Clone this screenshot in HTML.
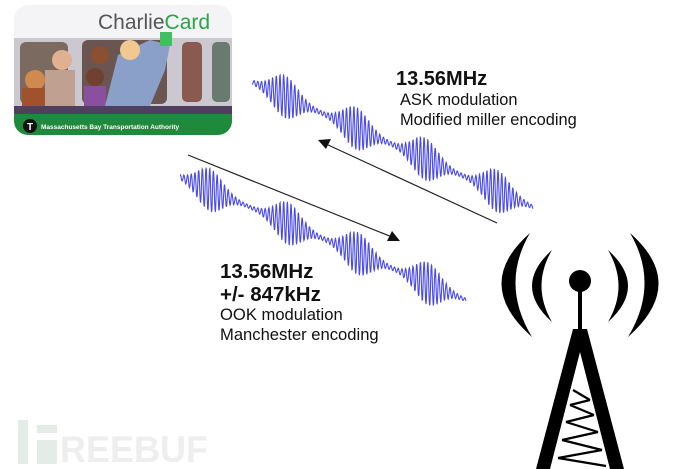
<!DOCTYPE html>
<html><head><meta charset="utf-8"><style>
html,body{margin:0;padding:0;background:#fff;}
svg{display:block}
text{font-family:"Liberation Sans",Arial,sans-serif;}
</style></head><body>
<svg id="s" width="690" height="469" viewBox="0 0 690 469" xmlns="http://www.w3.org/2000/svg">
<defs>
<clipPath id="cc"><rect x="14" y="5" width="218" height="130" rx="14"/></clipPath>
</defs>
<g clip-path="url(#cc)">
<rect x="14" y="5" width="218" height="130" fill="#f4f4f6"/>
<rect x="14" y="38" width="218" height="70" fill="#ccc8d0"/>
<rect x="20" y="42" width="48" height="62" rx="6" fill="#7a6a60"/>
<rect x="82" y="40" width="85" height="64" rx="6" fill="#6a5550"/>
<rect x="182" y="42" width="20" height="60" rx="5" fill="#8a5a50"/>
<rect x="212" y="42" width="18" height="60" rx="5" fill="#6a7a70"/>
<circle cx="35" cy="80" r="10" fill="#d08a50"/>
<rect x="22" y="88" width="25" height="18" fill="#a0522d"/>
<circle cx="62" cy="60" r="10" fill="#e0b090"/>
<rect x="45" y="70" width="30" height="36" fill="#c0a090"/>
<circle cx="100" cy="55" r="9" fill="#8a5030"/>
<circle cx="95" cy="77" r="9" fill="#704030"/>
<rect x="84" y="86" width="22" height="20" fill="#8a50a0"/>
<path d="M105 106 L118 55 L150 40 L170 45 L165 70 L150 106 Z" fill="#8aa0c8"/>
<circle cx="130" cy="50" r="10" fill="#f0c890"/>
<rect x="160" y="32" width="12" height="14" fill="#40c060"/>
<rect x="14" y="106" width="218" height="8" fill="#504060"/>
<rect x="14" y="114" width="218" height="21" fill="#1f8a3c"/>
<circle cx="30" cy="126" r="7" fill="#111"/>
<text x="30" y="130" font-size="10" font-weight="bold" fill="#fff" text-anchor="middle">T</text>
<text x="41" y="129" font-size="6.5" font-weight="bold" fill="#fff">Massachusetts Bay Transportation Authority</text>
<text x="98" y="29" font-size="21" fill="#555"><tspan>Charlie</tspan><tspan fill="#2aa548">Card</tspan></text>
</g>
<line x1="188" y1="155" x2="392" y2="237" stroke="#222" stroke-width="1.2"/>
<polygon points="400,241 387,241 392,231" fill="#111"/>
<line x1="497" y1="223" x2="326" y2="144" stroke="#222" stroke-width="1.2"/>
<polygon points="318,140 331,139 326,149" fill="#111"/>
<g id="waves" fill="none" stroke="#4a4ae8" stroke-width="1.1"></g>
<text x="396" y="85" font-size="20" font-weight="bold" fill="#111">13.56MHz</text>
<text x="400" y="105" font-size="16.4" fill="#111">ASK modulation</text>
<text x="400" y="125" font-size="16.4" fill="#111">Modified miller encoding</text>
<text x="220" y="278" font-size="20.5" font-weight="bold" fill="#111">13.56MHz</text>
<text x="220" y="301" font-size="20.5" font-weight="bold" fill="#111">+/- 847kHz</text>
<text x="220" y="320" font-size="16.6" fill="#111">OOK modulation</text>
<text x="220" y="340" font-size="16.6" fill="#111">Manchester encoding</text>
<g fill="#000">
<path d="M530 233 Q472 284 532 337 Q500 284 530 233 Z"/>
<path d="M552 250 Q512 286 552 322 Q531 286 552 250 Z"/>
<path d="M630 233 Q688 284 628 337 Q660 284 630 233 Z"/>
<path d="M608 250 Q648 286 608 322 Q629 286 608 250 Z"/>
<circle cx="580" cy="281" r="11"/>
<rect x="578" y="285" width="4" height="46"/>
<polygon points="573,329 587,329 624,469 610,469 580,352 550,469 536,469"/>
</g>
<g stroke="#000" stroke-width="2.2">
<line x1="573" y1="390" x2="590" y2="400"/><line x1="590" y1="400" x2="570" y2="405"/>
<line x1="570" y1="405" x2="594" y2="415"/><line x1="594" y1="415" x2="566" y2="422"/>
<line x1="566" y1="422" x2="598" y2="432"/><line x1="598" y1="432" x2="562" y2="440"/>
<line x1="562" y1="440" x2="602" y2="450"/><line x1="602" y1="450" x2="558" y2="458"/>
<line x1="558" y1="458" x2="606" y2="466"/>
</g>
<g fill="#e4ece8">
<rect x="18" y="420" width="10" height="44"/>
<rect x="37" y="425" width="20" height="8"/>
<rect x="37" y="440" width="20" height="24"/>
</g>
<text x="60" y="462" font-size="37" font-weight="bold" fill="#eeeeee" textLength="148" lengthAdjust="spacingAndGlyphs">REEBUF</text>
</svg>
<script>
(function(){
var g=document.getElementById('waves');
function wave(x0,y0,x1,y1,centers,amp,half){
  var d='',n=900;
  for(var i=0;i<=n;i++){
    var t=i/n,x=x0+(x1-x0)*t,y=y0+(y1-y0)*t,a=1.5;
    for(var k=0;k<centers.length;k++){
      var dx=(x-centers[k])/half;
      a+=amp*Math.exp(-dx*dx*2.2);
    }
    var yy=y+a*Math.sin(x*1.7);
    d+=(i?'L':'M')+x.toFixed(1)+' '+yy.toFixed(1);
  }
  var p=document.createElementNS('http://www.w3.org/2000/svg','path');
  p.setAttribute('d',d);g.appendChild(p);
}
wave(252,82,533,207,[285,356,425,497],20,26);
wave(180,177,466,300,[210,288,358,428],20,26);
})();
</script>
</body></html>
